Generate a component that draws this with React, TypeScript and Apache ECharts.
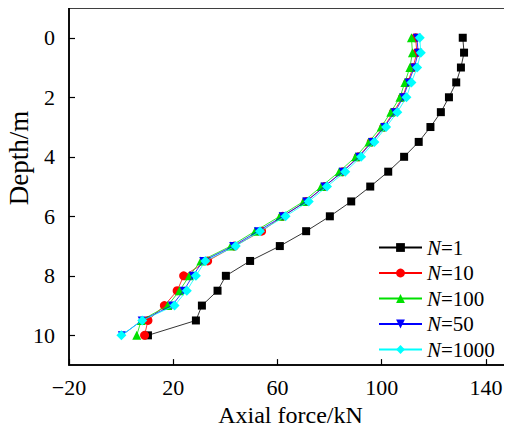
import React, { useEffect, useRef } from "react";
import * as echarts from "echarts";

const depths = [0, 0.5, 1, 1.5, 2, 2.5, 3, 3.5, 4, 4.5, 5, 5.5, 6, 6.5, 7, 7.5, 8, 8.5, 9, 9.5, 10];
const forceN1 = [131.1, 131.6, 130.4, 128.6, 125.8, 122.7, 118.7, 114.2, 108.6, 102.5, 95.6, 88.3, 80.1, 71, 60.9, 49.5, 40.2, 37, 31, 28.7, 10.3];
const forceN10 = [113, 113.5, 112, 110, 108, 104.5, 100.8, 96, 91, 85, 78, 71, 62, 53.9, 43.5, 33.2, 24, 21.5, 16.6, 10.3, 9];
const forceN100 = [111.4, 111.8, 110.8, 108.9, 107, 103.5, 99.8, 95.1, 90, 83.7, 76.8, 70, 60.9, 51.4, 42.1, 30.6, 26.2, 22.4, 17.9, 7.7, 6];
const forceN50 = [113.5, 114, 112.5, 110.3, 108.3, 105, 101, 96.3, 91.3, 85, 78, 71, 62, 52.5, 43, 31.5, 27.5, 24, 19.5, 7.9, 0.3];
const forceN1000 = [114.6, 115, 113.6, 111.4, 109.5, 106, 101.7, 97.2, 92.1, 86, 79, 72, 63.1, 53.3, 44, 32.3, 28.7, 25.2, 20.5, 8.1, 0.1];

const xTicks = [-20, 20, 60, 100, 140];
const yTicks = [0, 2, 4, 6, 8, 10];

const seriesNames = ["N=1", "N=10", "N=100", "N=50", "N=1000"];
const seriesValues = [forceN1, forceN10, forceN100, forceN50, forceN1000];
const seriesColors = ["#000000", "#ff0000", "#00e000", "#0000ff", "#00ffff"];
const seriesSymbols = ["rect", "circle", "triangle", "triangle", "diamond"];
const seriesRotate = [0, 0, 0, 180, 0];
const seriesSizes = [8, 9, 9, 8, 10];

const FONT = "Liberation Serif";

export default function App() {
  const ref = useRef<HTMLDivElement>(null);
  useEffect(() => {
    if (!ref.current) return;
    const chart = echarts.init(ref.current, null, { renderer: "svg" });
    const series = seriesNames.map((name, i) => ({
      name,
      type: "line",
      data: seriesValues[i].map((v, j) => [v, depths[j]]),
      symbol: seriesSymbols[i],
      symbolRotate: seriesRotate[i],
      symbolSize: seriesSizes[i],
      showAllSymbol: true,
      lineStyle: { color: seriesColors[i], width: 0.8 },
      itemStyle: { color: seriesColors[i] },
      z: 2 + i,
    }));
    chart.setOption({
      animation: false,
      backgroundColor: "#fff",
      grid: {
        left: 69,
        top: 8,
        width: 445,
        height: 366,
        show: true,
        borderColor: "#000",
        borderWidth: 1.5,
      },
      legend: {
        left: 378,
        top: 237,
        padding: 0,
        orient: "vertical",
        itemWidth: 43,
        itemHeight: 11,
        itemGap: 4.5,
        data: seriesNames,
        formatter: (name: string) => "{i|N}{t|" + name.slice(1) + "}",
        textStyle: {
          fontFamily: FONT,
          fontSize: 21,
          color: "#000",
          rich: {
            i: { fontFamily: FONT, fontSize: 21, fontStyle: "italic", color: "#000", lineHeight: 20 },
            t: { fontFamily: FONT, fontSize: 21, color: "#000", lineHeight: 20 },
          },
        },
      },
      xAxis: {
        type: "value",
        min: -20,
        max: 150,
        position: "bottom",
        name: "Axial force/kN",
        nameLocation: "middle",
        nameGap: 36,
        nameTextStyle: { fontFamily: FONT, fontSize: 24, color: "#000" },
        axisLine: { onZero: false, lineStyle: { color: "#000", width: 1.5 } },
        axisTick: { inside: true, length: 6, customValues: xTicks, lineStyle: { color: "#000", width: 1.2 } },
        axisLabel: {
          customValues: xTicks,
          fontFamily: FONT,
          fontSize: 22,
          color: "#000",
          margin: 11,
          formatter: (v: number) => String(v).replace("-", "\u2212"),
        },
        splitLine: { show: false },
      },
      yAxis: {
        type: "value",
        min: -1,
        max: 11,
        inverse: true,
        axisLine: { onZero: false, lineStyle: { color: "#000", width: 1.5 } },
        axisTick: { inside: true, length: 6, customValues: yTicks, lineStyle: { color: "#000", width: 1.2 } },
        axisLabel: { customValues: yTicks, fontFamily: FONT, fontSize: 22, color: "#000", margin: 14 },
        splitLine: { show: false },
      },
      graphic: [
        {
          type: "text",
          x: 19,
          y: 158,
          rotation: Math.PI / 2,
          style: {
            text: "Depth/m",
            fontFamily: FONT,
            fontSize: 27,
            fill: "#000",
            align: "center",
            verticalAlign: "middle",
          },
        },
      ],
      series,
    });
    return () => chart.dispose();
  }, []);
  return <div ref={ref} style={{ width: 512, height: 432, margin: -8 }} />;
}
